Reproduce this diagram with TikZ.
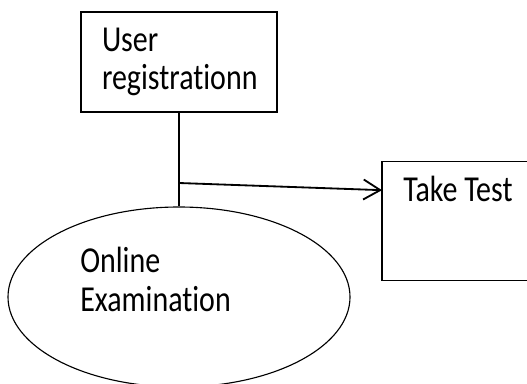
\documentclass[tikz,border=0pt]{standalone}
\usepackage{fontspec}
\setmainfont{Carlito}[Ligatures=NoCommon,FakeStretch=0.82]
\usetikzlibrary{arrows.meta,calc,shapes.geometric}

\begin{document}
\begin{tikzpicture}[every node/.style={font=\fontsize{26pt}{27.5pt}\selectfont},
  box/.style={draw,line width=1pt,inner ysep=0pt}]
\useasboundingbox (0,0) rectangle (13.175,9.575);
\clip (0,0) rectangle (13.175,9.575);
\node[box,minimum width=4.9cm,minimum height=2.5cm,text width=3.85cm,align=left] (user) at (4.475,8.025) {User\\registrationn};
\node[inner ysep=0pt,anchor=base west,inner xsep=0.525cm,text height=0.975cm,text depth=1.975cm] (test) at (9.55,4.55) {\makebox[4cm][l]{Take Test}};
\draw[line width=1pt] (test.north east) -- (test.north west) -- (test.south west) -- (test.south east);
\node[draw,ellipse,line width=0.8pt,minimum width=8.55cm,minimum height=4.5cm,inner sep=0pt] (exam) at (4.475,2.15) {};
\node[anchor=north west,inner sep=0pt,align=left] (examtext) at (2.0,3.4) {Online\\Examination};
\coordinate (branch) at (4.475,5.0);
\draw[line width=1pt] (user.south) -- (exam.north);
\draw[line width=1.3pt,-{Straight Barb[length=0.42cm,width=0.5cm]}] (branch) -- ($(test.north west)!0.24!(test.south west)$);
\end{tikzpicture}
\end{document}
